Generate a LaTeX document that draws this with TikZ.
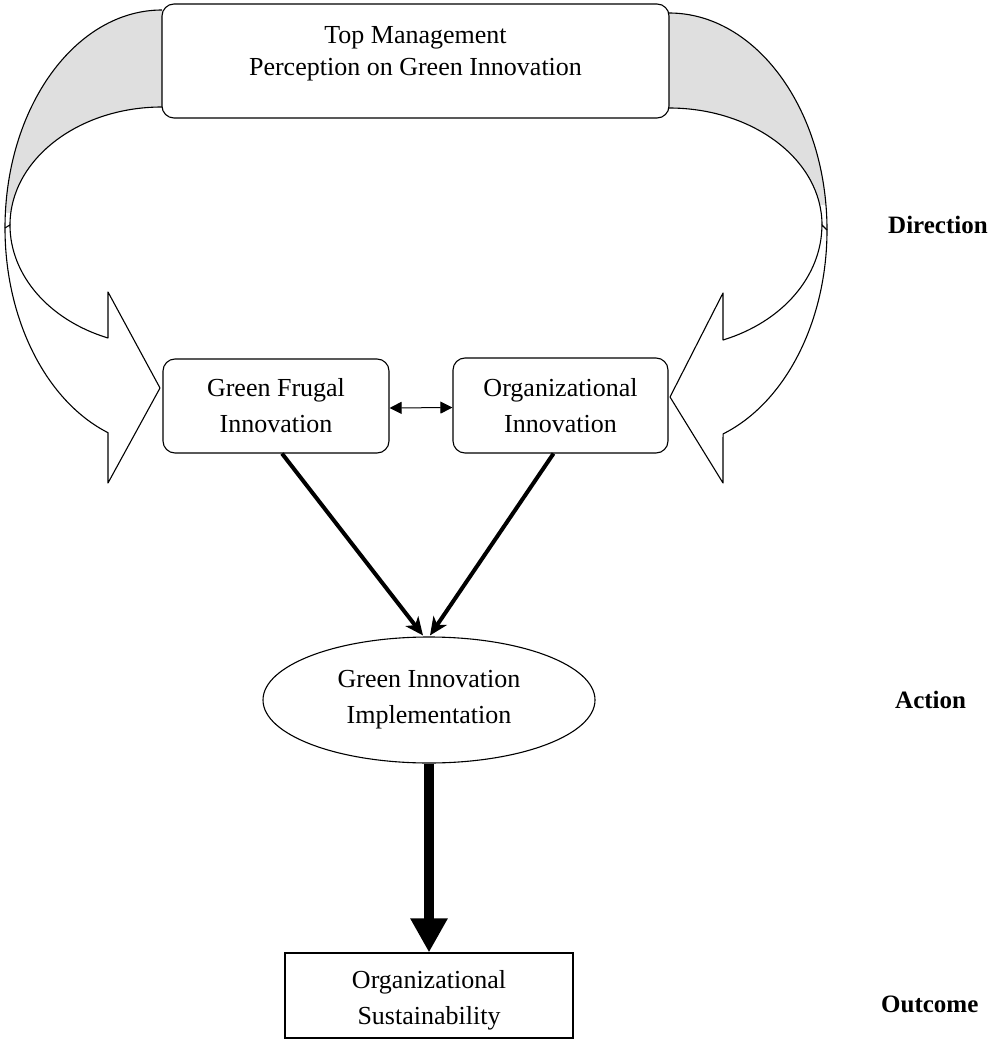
\documentclass[tikz,border=0pt]{standalone}
\usepackage{fontspec}
\setmainfont{Liberation Serif}
\usetikzlibrary{arrows.meta,shapes.geometric}

\tikzset{
  boxtext/.style={align=center, inner sep=0pt, font=\fontsize{26}{36}\selectfont},
  roundbox/.style={boxtext, draw, line width=1.1pt, rounded corners=12pt, fill=white},
  plainbox/.style={boxtext, draw, line width=1.1pt, fill=white},
  ovalbox/.style={boxtext, ellipse, draw, line width=1.1pt, fill=white},
  ribbon/.style={draw, line width=1.1pt, line join=round},
  bandfill/.style={fill=gray!25},
  level/.style={font=\fontsize{25}{30}\selectfont\bfseries, anchor=west, inner sep=0pt},
  linkarrow/.style={line width=1pt, {Triangle[length=12pt,width=12pt]}-{Triangle[length=12pt,width=12pt]}},
  feedarrow/.style={line width=4pt, -{Stealth[length=18pt,width=16pt,inset=5pt]}},
  mainarrow/.style={line width=10pt, -{Triangle[length=34pt,width=35pt]}}
}

\begin{document}
\begin{tikzpicture}[x=1pt,y=1pt]
\useasboundingbox (0,0) rectangle (987,-1040);

% shaded back of the left curved ribbon
\begin{scope}
  \clip (0,-6) rectangle (168,-213);
  \fill[bandfill] (162,-10) arc[start angle=90,end angle=180,x radius=157pt,y radius=218pt]
    -- (10,-225) arc[start angle=180,end angle=90,x radius=152pt,y radius=118pt] -- cycle;
\end{scope}
\draw[ribbon] (162,-10) arc[start angle=90,end angle=180,x radius=157pt,y radius=218pt];
\draw[ribbon] (10,-225) arc[start angle=180,end angle=90,x radius=152pt,y radius=118pt];
% front of the left ribbon with its arrowhead
\draw[ribbon, fill=white] (5,-228) arc[start angle=180,end angle=249.9,x radius=157pt,y radius=218pt]
  -- (108,-483) -- (160,-388) -- (108,-292) -- (108,-338)
  arc[start angle=249.2,end angle=180,x radius=152pt,y radius=121pt] -- cycle;

% shaded back of the right curved ribbon
\begin{scope}
  \clip (663,-6) rectangle (835,-205);
  \fill[bandfill] (669,-13) arc[start angle=90,end angle=0,x radius=158pt,y radius=217pt]
    -- (822,-225) arc[start angle=0,end angle=90,x radius=153pt,y radius=117pt] -- cycle;
\end{scope}
\draw[ribbon] (669,-13) arc[start angle=90,end angle=0,x radius=158pt,y radius=217pt];
\draw[ribbon] (822,-225) arc[start angle=0,end angle=90,x radius=153pt,y radius=117pt];
% front of the right ribbon with its arrowhead
\draw[ribbon, fill=white] (827,-230) arc[start angle=0,end angle=-70,x radius=158pt,y radius=217pt]
  -- (723,-483) -- (670,-397) -- (723,-293) -- (723,-340)
  arc[start angle=-69.3,end angle=0,x radius=153pt,y radius=123pt] -- cycle;

% nodes
\node[roundbox, minimum width=507pt, minimum height=114pt] (top) at (415.5,-61) {};
\node[boxtext, font=\fontsize{26}{32}\selectfont] (toptext) at ([yshift=7pt]top.center)
  {Top Management\\Perception on Green Innovation};
\node[roundbox, minimum width=226pt, minimum height=94pt] (gfi) at (276,-406)
  {Green Frugal\\Innovation};
\node[roundbox, minimum width=215pt, minimum height=95pt] (oi) at (560.5,-405.5)
  {Organizational\\Innovation};
\node[ovalbox, minimum width=332pt, minimum height=126pt] (gii) at (429,-700)
  {Green Innovation\\Implementation};
\node[plainbox, minimum width=288pt, minimum height=85pt] (os) at (429,-995.5) {};
\node[boxtext] (ostext) at ([yshift=-5pt]os.center)
  {Organizational\\Sustainability};

% connectors
\draw[linkarrow] ([yshift=-2pt]gfi.east) -- ([yshift=-2pt]oi.west);
\draw[feedarrow] ([xshift=6pt]gfi.south) -- ([xshift=-6pt,yshift=1pt]gii.north);
\draw[feedarrow] ([xshift=-7pt]oi.south) -- ([xshift=1pt,yshift=1pt]gii.north);
\draw[mainarrow] (gii.south) -- (os.north);

% stage labels
\node[level] (dir) at (888,-225) {Direction};
\node[level] (act) at (895,-700) {Action};
\node[level] (out) at (881,-1004) {Outcome};
\end{tikzpicture}
\end{document}
